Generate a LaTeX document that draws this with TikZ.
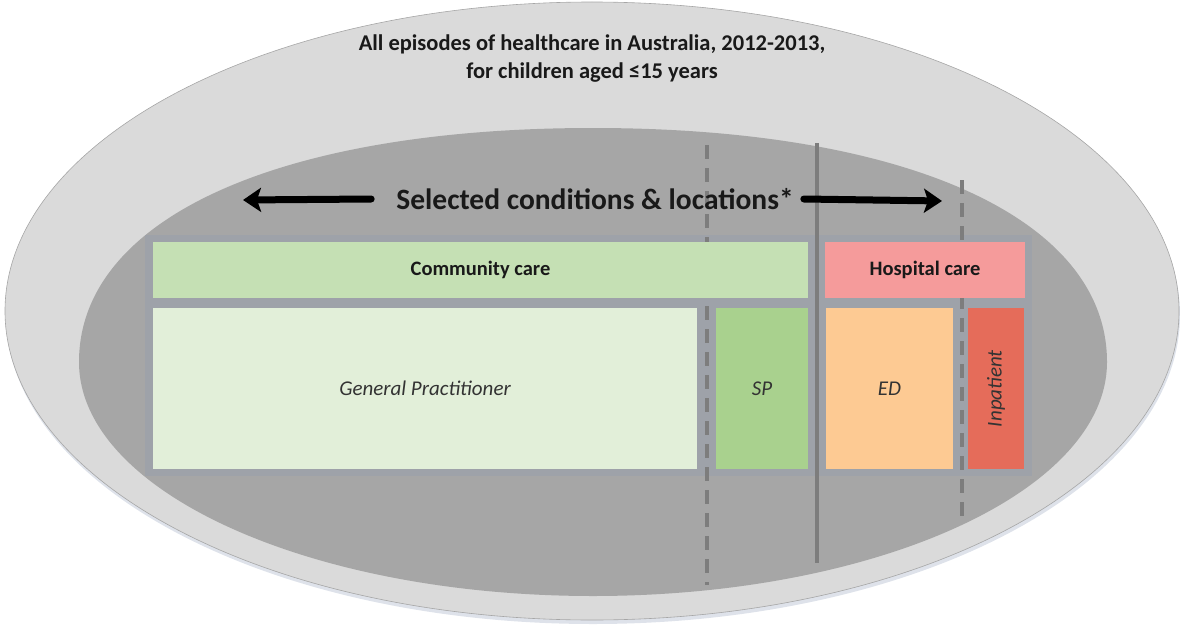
\documentclass[tikz,border=0pt]{standalone}
\usepackage{fontspec}
\setmainfont{Carlito}
\usetikzlibrary{arrows.meta,positioning}
\definecolor{outergrey}{RGB}{218,218,218}
\definecolor{innergrey}{RGB}{166,166,166}
\definecolor{bandgrey}{RGB}{158,162,169}
\definecolor{linegrey}{RGB}{125,125,125}
\definecolor{shadowblue}{RGB}{222,226,234}
\definecolor{commgreen}{RGB}{197,224,180}
\definecolor{gpgreen}{RGB}{226,239,217}
\definecolor{spgreen}{RGB}{169,209,142}
\definecolor{hosppink}{RGB}{245,155,155}
\definecolor{edorange}{RGB}{253,202,147}
\definecolor{inpred}{RGB}{229,108,90}

\begin{document}
\begin{tikzpicture}[x=1pt,y=-1pt,
  care/.style={inner sep=0, text=black!90, font=\fontsize{20.5}{24}\selectfont\bfseries},
  place/.style={inner sep=0, text=black!80, font=\fontsize{21}{24}\selectfont\itshape},
  divider/.style={line width=4pt, draw=linegrey},
  broken/.style={divider, dash pattern=on 14pt off 9pt},
  bigarrow/.style={line width=7pt, line cap=round, -{Stealth[length=18pt,width=24pt,inset=4pt]}}]
\useasboundingbox (0,0) rectangle (1180,626);

% all episodes
\fill[shadowblue] (593,315) ellipse [x radius=587, y radius=309];
\filldraw[fill=outergrey, draw=gray!70, line width=0.6pt] (592,311) ellipse [x radius=587, y radius=309];
\node[inner sep=0, align=center, font=\fontsize{22.5}{28}\selectfont\bfseries, text=black!90] (all) at (592,59)
  {All episodes of healthcare in Australia, 2012-2013,\\for children aged ≤15 years};

% selected conditions and locations (top half a bit fuller)
\fill[innergrey] (79,362) .. controls (79,218) and (280,128) .. (593,128)
  .. controls (906,128) and (1107,218) .. (1107,362)
  arc[start angle=0, end angle=180, x radius=514, y radius=234] -- cycle;
\fill[bandgrey] (145,235) rectangle (1032,476);

\coordinate (dashAtop) at (707,145);
\coordinate (dashAbot) at (707,585);
\coordinate (splittop) at (817,143);
\coordinate (splitbot) at (817,563);
\coordinate (dashBtop) at (962,180);
\coordinate (dashBbot) at (962,516);
\draw[broken] (dashAtop) -- (dashAbot);
\draw[divider] (splittop) -- (splitbot);
\draw[broken] (dashBtop) -- (dashBbot);

\node[inner sep=0, font=\fontsize{29.5}{34}\selectfont\bfseries, text=black!90] (sel) at (595,199)
  {Selected conditions \& locations*};
\coordinate (lefttip) at (243,200);
\coordinate (righttip) at (942,201);
\draw[bigarrow] ([xshift=-25pt]sel.west) -- (lefttip);
\draw[bigarrow] ([xshift=10pt]sel.east) -- (righttip);

% community and hospital care
\node[care, fill=commgreen, minimum width=655pt, minimum height=56pt] (comm) at (480.5,270) {Community care};
\node[care, fill=hosppink, minimum width=200pt, minimum height=56pt] (hosp) at (925,270) {Hospital care};

\node[place, fill=gpgreen, minimum width=544pt, minimum height=161pt] (gp) at (425,388.5) {General Practitioner};
\node[place, fill=spgreen, minimum width=92pt, minimum height=161pt] (sp) at (762,388.5) {SP};
\node[place, fill=edorange, minimum width=127pt, minimum height=161pt] (ed) at (889.5,388.5) {ED};
\node[place, fill=inpred, minimum width=161pt, minimum height=56pt, rotate=90] (inp) at (996,388.5) {Inpatient};
\end{tikzpicture}
\end{document}
